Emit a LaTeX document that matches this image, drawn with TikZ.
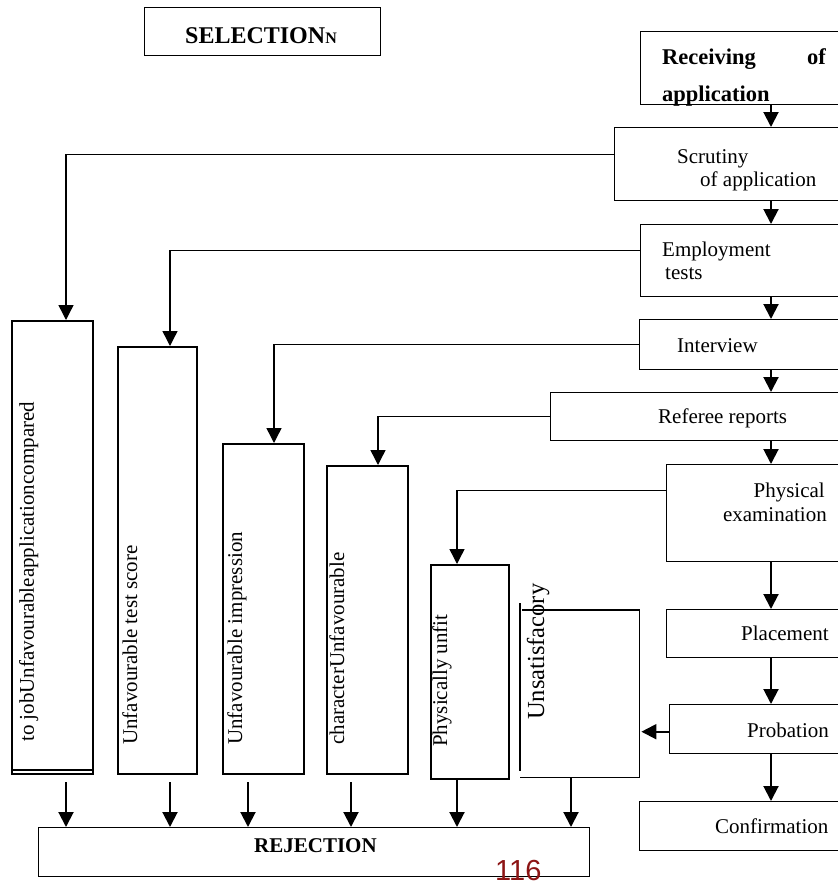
\documentclass[tikz,border=0pt]{standalone}
\usepackage{fontspec}
\setmainfont{Liberation Serif}
\newfontfamily\numfont{Liberation Sans}
\usetikzlibrary{arrows.meta}
\begin{document}
\begin{tikzpicture}[x=1pt,y=-1pt,
  rbox/.style={draw,line width=1.4pt,rectangle,inner sep=0pt,anchor=north west},
  lbox/.style={draw,line width=2pt,rectangle,inner sep=0pt,anchor=north west},
  arr/.style={line width=2pt,-{Triangle[length=15pt,width=15pt]}},
  link/.style={line width=1.4pt},
  txt/.style={inner sep=0pt,font=\fontsize{21}{25}\selectfont},
  btxt/.style={inner sep=0pt,font=\fontsize{22.5}{26}\selectfont\bfseries},
  vtxt/.style={inner sep=0pt,font=\fontsize{21}{25}\selectfont,rotate=90,anchor=base west},
]
\useasboundingbox (0,0) rectangle (838,887);
\clip (0,0) rectangle (838,887);

% title
\node[rbox,minimum width=236,minimum height=48] (sel) at (144,7) {};
\node[inner sep=0pt,anchor=base west] (selt) at (185,43)
  {\fontsize{24}{28}\selectfont\bfseries SELECTION\fontsize{16}{18}\selectfont N};

% right column
\node[rbox,minimum width=250,minimum height=73] (rec) at (640,31) {};
\node[rbox,minimum width=276,minimum height=73] (scr) at (614,127) {};
\node[rbox,minimum width=250,minimum height=72] (emp) at (640,224) {};
\node[rbox,minimum width=250,minimum height=50] (int) at (639,319) {};
\node[rbox,minimum width=340,minimum height=48] (ref) at (550,392) {};
\node[rbox,minimum width=224,minimum height=97] (phy) at (666,464) {};
\node[rbox,minimum width=224,minimum height=48] (pla) at (666,609) {};
\node[rbox,minimum width=221,minimum height=49] (pro) at (669,704) {};
\node[rbox,minimum width=251,minimum height=49] (con) at (639,801) {};

\node[btxt,anchor=base west] (rect1) at (662,64) {Receiving};
\node[btxt,anchor=base west] (rect2) at (807,64) {of};
\node[btxt,anchor=base west] (rect3) at (662,101) {application};
\node[txt,anchor=base west] (scrt1) at (677,163) {Scrutiny};
\node[txt,anchor=base west] (scrt2) at (700,186) {of application};
\node[txt,anchor=base west] (empt1) at (662,256) {Employment};
\node[txt,anchor=base west] (empt2) at (665,279) {tests};
\node[txt,anchor=base west] (intt) at (677,352) {Interview};
\node[txt,anchor=base west] (reft) at (658,423) {Referee reports};
\node[txt,anchor=base east] (phyt1) at (825,497) {Physical};
\node[txt,anchor=base east] (phyt2) at (827,521) {examination};
\node[txt,anchor=base west] (plat) at (741,640) {Placement};
\node[txt,anchor=base west] (prot) at (747,737) {Probation};
\node[txt,anchor=base west] (cont) at (715,833) {Confirmation};

% main flow arrows
\coordinate (ax) at (771,0);
\draw[arr] (rec.south -| ax) -- (scr.north -| ax);
\draw[arr] (scr.south -| ax) -- (emp.north -| ax);
\draw[arr] (emp.south -| ax) -- (int.north -| ax);
\draw[arr] (int.south -| ax) -- (ref.north -| ax);
\draw[arr] (ref.south -| ax) -- (phy.north -| ax);
\draw[arr] (phy.south -| ax) -- (pla.north -| ax);
\draw[arr] (pla.south -| ax) -- (pro.north -| ax);
\draw[arr] (pro.south -| ax) -- (con.north -| ax);

% rejection boxes
\node[lbox,minimum width=81,minimum height=453] (b1) at (11,320) {};
\draw[line width=2pt] ([yshift=5]b1.south west) -- ([yshift=5]b1.south east);
\node[lbox,minimum width=79,minimum height=427] (b2) at (117,346) {};
\node[lbox,minimum width=81,minimum height=330] (b3) at (222,443) {};
\node[lbox,minimum width=81,minimum height=308] (b4) at (326,465) {};
\node[lbox,minimum width=78,minimum height=214] (b5) at (430,564) {};
\node[rectangle,inner sep=0pt,anchor=north west,minimum width=119,minimum height=167] (uns) at (520,610) {};
\draw[line width=1.4pt] ([xshift=2]uns.north west) -- (uns.north east) -- (uns.south east) -- (uns.south west);
\draw[line width=1.6pt] ([yshift=7]uns.north west) -- ([yshift=6]uns.south west);

\node[vtxt] (b1t) at (34,742) {to jobUnfavourableapplicationcompared};
\node[vtxt] (b2t) at (137,745) {Unfavourable test score};
\node[vtxt] (b3t) at (242,745) {Unfavourable impression};
\node[vtxt] (b4t) at (344,745) {characterUnfavourable};
\node[vtxt] (b5t) at (447,747) {Physically unfit};
\node[vtxt,font=\fontsize{24.5}{28}\selectfont] (unst) at (544,720) {Unsatisfacory};

% connectors to rejection boxes
\draw[arr,link] ([yshift=10]scr.west) -| ([xshift=55]b1.north west);
\draw[arr,link] ([yshift=10]emp.west) -| ([xshift=53]b2.north west);
\draw[arr,link] (int.west) -| ([xshift=52]b3.north west);
\draw[arr,link] (ref.west) -| ([xshift=52]b4.north west);
\draw[arr,link] ([yshift=22.5]phy.west) -| ([xshift=27]b5.north west);
\coordinate (pw) at ([yshift=-2.5]pro.west);
\draw[arr] (pw) -- ([xshift=2]pw -| uns.east);

% REJECTION
\node[rbox,minimum width=551,minimum height=49] (rej) at (38,827) {};
\node[inner sep=0pt,anchor=base west,font=\fontsize{21}{25}\selectfont\bfseries] (rejt) at (254,852) {REJECTION};

\coordinate (o1) at ([xshift=55]b1.south west);
\coordinate (o2) at ([xshift=53]b2.south west);
\coordinate (o3) at ([xshift=26]b3.south west);
\coordinate (o4) at ([xshift=25]b4.south west);
\coordinate (o5) at ([xshift=27]b5.south west);
\coordinate (o6) at ([xshift=51]uns.south west);
\draw[arr] ([yshift=-7]o1) -- (o1 |- rej.north);
\draw[arr] ([yshift=-7]o2) -- (o2 |- rej.north);
\draw[arr] ([yshift=-7]o3) -- (o3 |- rej.north);
\draw[arr] ([yshift=-7]o4) -- (o4 |- rej.north);
\draw[arr] (o5) -- (o5 |- rej.north);
\draw[arr] (o6) -- (o6 |- rej.north);

% page number
\node[inner sep=0pt,anchor=base west,text={rgb,255:red,140;green,20;blue,20},font=\numfont\fontsize{29}{32}\selectfont] (pg) at (495,880) {116};
\end{tikzpicture}
\end{document}
